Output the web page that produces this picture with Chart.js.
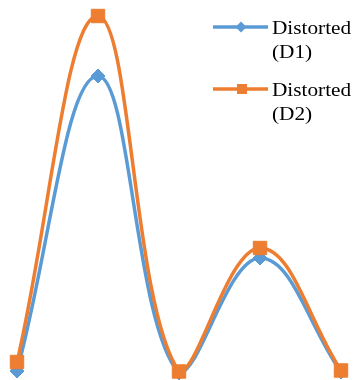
<!DOCTYPE html>
<html>
<head>
<meta charset="utf-8">
<script src="https://cdn.jsdelivr.net/npm/chart.js@4/dist/chart.umd.min.js"></script>
<style>
  html, body { margin: 0; padding: 0; background: #fff; }
  #wrap { width: 354px; height: 380px; position: relative; }
</style>
</head>
<body>
<div id="wrap"><canvas id="c" width="354" height="380"></canvas></div>
<script>
// Sample positions along the x axis
const categories = ['1', '2', '3', '4', '5'];
// Distortion values for each series
const seriesNames = ['Distorted (D1)', 'Distorted (D2)'];
const d1Values = [0.4, 29.9, 0.2, 11.7, 0.3];
const d2Values = [1.3, 35.9, 0.35, 12.7, 0.45];

const BLUE = '#5B9BD5';
const ORANGE = '#ED7D31';

// Legend drawn over the plot, top right, with wrapped labels
const sideLegend = {
  id: 'sideLegend',
  afterDatasetsDraw(chart) {
    const ctx = chart.ctx;
    const items = [
      { ds: chart.data.datasets[0], y: 27, lines: ['Distorted', '(D1)'] },
      { ds: chart.data.datasets[1], y: 89, lines: ['Distorted', '(D2)'] }
    ];
    ctx.save();
    items.forEach(it => {
      ctx.strokeStyle = it.ds.borderColor;
      ctx.lineWidth = 3.5;
      ctx.lineCap = 'butt';
      ctx.beginPath();
      ctx.moveTo(213, it.y);
      ctx.lineTo(268, it.y);
      ctx.stroke();
      ctx.fillStyle = it.ds.borderColor;
      if (it.ds.pointStyle === 'rectRot') {
        ctx.beginPath();
        ctx.moveTo(241, it.y - 5.5);
        ctx.lineTo(246.5, it.y);
        ctx.lineTo(241, it.y + 5.5);
        ctx.lineTo(235.5, it.y);
        ctx.closePath();
        ctx.fill();
      } else {
        ctx.fillRect(237, it.y - 5, 10, 10);
      }
      ctx.fillStyle = '#000';
      ctx.font = '19px "Liberation Serif", "Times New Roman", serif';
      ctx.textBaseline = 'alphabetic';
      ctx.textAlign = 'left';
      // labels are set slightly wide
      ctx.save();
      ctx.translate(272, 0);
      ctx.scale(1.12, 1);
      ctx.fillText(it.lines[0], 0, it.y + 7);
      ctx.fillText(it.lines[1], 0, it.y + 31);
      ctx.restore();
    });
    ctx.restore();
  }
};

new Chart(document.getElementById('c'), {
  type: 'line',
  data: {
    labels: categories,
    datasets: [
      {
        label: seriesNames[0],
        data: d1Values,
        borderColor: BLUE,
        backgroundColor: BLUE,
        pointBackgroundColor: BLUE,
        pointBorderColor: BLUE,
        pointStyle: 'rectRot',
        pointRadius: 7,
        pointBorderWidth: 1,
        borderWidth: 3.5,
        tension: 0.4,
        clip: false,
        order: 2
      },
      {
        label: seriesNames[1],
        data: d2Values,
        borderColor: ORANGE,
        backgroundColor: ORANGE,
        pointBackgroundColor: ORANGE,
        pointBorderColor: ORANGE,
        pointStyle: 'rect',
        pointRadius: 9.5,
        pointBorderWidth: 1,
        borderWidth: 3.5,
        tension: 0.4,
        clip: false,
        order: 1
      }
    ]
  },
  options: {
    responsive: false,
    animation: false,
    devicePixelRatio: 1,
    layout: { autoPadding: false, padding: { left: 17, right: 13, top: 15, bottom: 5 } },
    plugins: { legend: { display: false }, tooltip: { enabled: false } },
    scales: {
      x: { display: false, offset: false },
      y: { display: false, min: 0, max: 36 }
    }
  },
  plugins: [sideLegend]
});
</script>
</body>
</html>
